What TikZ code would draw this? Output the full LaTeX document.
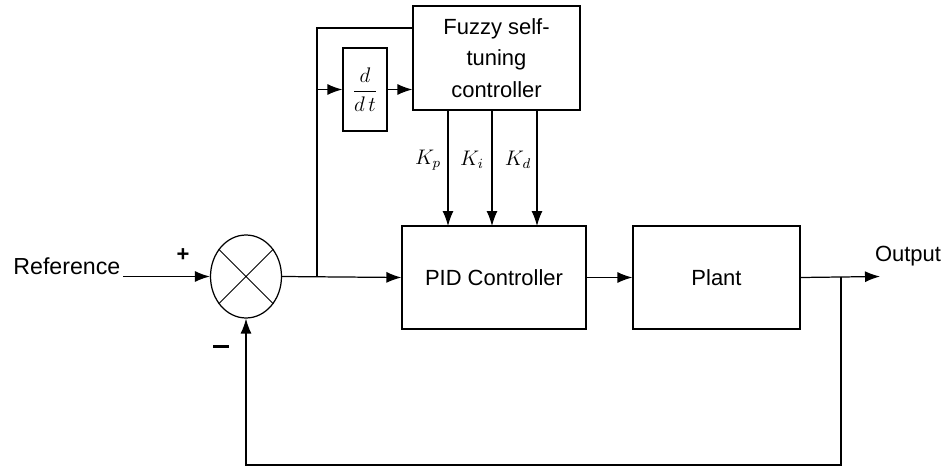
\documentclass[tikz,border=0pt]{standalone}
\usepackage{fontspec}
\setmainfont{Liberation Sans}
\usetikzlibrary{arrows.meta,shapes.geometric}

\begin{document}
\begin{tikzpicture}[x=0.02cm,y=-0.02cm,line width=0.7pt,
    >={Latex[length=3mm,width=2.2mm]},
    font=\fontsize{12.5}{18}\selectfont,
    block/.style={draw,inner sep=0pt,align=center},
    lbl/.style={inner sep=0pt}]
  \useasboundingbox (0,0) rectangle (950,466);
  % blocks
  \node[block,minimum width=3.34cm,minimum height=2.08cm] (fuzzy) at (496.5,58)
    {Fuzzy self-\\tuning\\controller};
  \node[block,minimum width=0.88cm,minimum height=1.66cm] (ddt) at (365,89.5)
    {$\displaystyle\frac{d}{d\,t}$};
  \node[block,minimum width=3.68cm,minimum height=2.06cm] (pid) at (494,277.5)
    {PID Controller};
  \node[block,minimum width=3.34cm,minimum height=2.06cm] (plant) at (716.5,277.5)
    {Plant};
  \node[draw,ellipse,minimum width=1.42cm,minimum height=1.66cm,inner sep=0pt]
    (sum) at (246,276.5) {};
  \draw[line width=0.5pt] (sum.45) -- (sum.225) (sum.135) -- (sum.315);
  % labels
  \node[lbl,anchor=east,font=\fontsize{13.2}{16}\selectfont] (ref) at (121,266) {Reference};
  \node[lbl] (out) at (908,256) {Output};
  \node[lbl] (plus) at (183,255) {\textbf{+}};
  \node[lbl] (minus) at (221,346) {\rule{0.32cm}{0.06cm}};
  \node[lbl,font=\large] (kp) at (428,160) {$K_p$};
  \node[lbl,font=\large] (ki) at (472,160) {$K_i$};
  \node[lbl,font=\large] (kd) at (518,160) {$K_d$};
  % signal lines
  \coordinate (src) at (123,276.5);
  \coordinate (tap) at (317,276.5);
  \coordinate (top) at (317,28);
  \coordinate (brn) at (841,276.5);
  \coordinate (end) at (880,276.5);
  \coordinate (bot) at (841,465);
  \draw[->] (src) -- (sum.west);
  \draw[->] (sum.east) -- (pid.west);
  \draw (tap) -- (top) -- (top -| fuzzy.west);
  \draw[->] (tap |- ddt.west) -- (ddt.west);
  \draw[->] (ddt.east) -- (ddt.east -| fuzzy.west);
  \foreach \xx in {448,492,537}
    \draw[->] (\xx,110) -- (\xx,226);
  \draw[->] (pid.east) -- (plant.west);
  \draw[->] (plant.east) -- (end);
  \draw[->] (brn) -- (bot) -- (bot -| sum.south) -- (sum.south);
\end{tikzpicture}
\end{document}
